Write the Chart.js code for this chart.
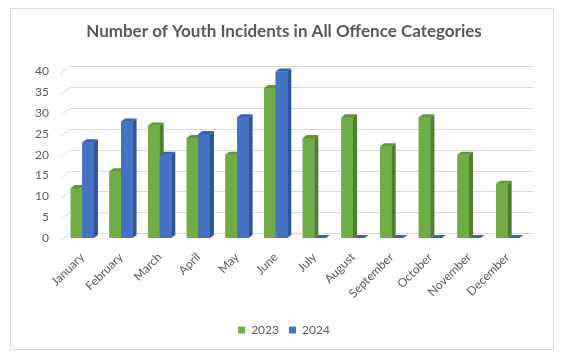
<!DOCTYPE html>
<html>
<head>
<meta charset="utf-8">
<script src="https://cdn.jsdelivr.net/npm/chart.js@4.4.1/dist/chart.umd.min.js"></script>
<style>
  html, body { margin: 0; padding: 0; background: #ffffff; }
  #wrap { position: relative; width: 571px; height: 360px; }
  #frame { position: absolute; left: 10px; top: 8px; width: 544px; height: 342px; border: 1px solid #d9d9d9; box-sizing: border-box; pointer-events: none; }
</style>
</head>
<body>
<div id="wrap">
  <canvas id="c" width="571" height="360"></canvas>
  <div id="frame"></div>
</div>
<script>
const months = ["January","February","March","April","May","June","July","August","September","October","November","December"];
const seriesNames = ["2023","2024"];
const values2023 = [12,16,27,24,20,36,24,29,22,29,20,13];
const values2024 = [23,28,20,25,29,40,0,0,0,0,0,0];
const yTickValues = [0,5,10,15,20,25,30,35,40];

const frontColors = ["#70AD47","#4472C4"];
const sideColors  = ["#4E7F30","#2F5597"];
const topColors   = ["#5E9639","#3A62AC"];
const DX = 4, DY = 3;

// let the y tick labels draw left of the (narrow) y scale box
const widenYClip = {
  id: 'widenYClip',
  afterLayout(chart) { chart.scales.y.left = 0; }
};

const grid3d = {
  id: 'grid3d',
  beforeDatasetsDraw(chart) {
    const {ctx, chartArea} = chart;
    const ys = chart.scales.y;
    ctx.save();
    ctx.strokeStyle = '#d9d9d9';
    ctx.lineWidth = 1;
    yTickValues.forEach(v => {
      const y = Math.round(ys.getPixelForValue(v)) + 0.5;
      ctx.beginPath();
      ctx.moveTo(chartArea.left - 3, y + 2);
      ctx.lineTo(chartArea.left + 7, y - 5);
      ctx.lineTo(chartArea.right + 6, y - 5);
      ctx.stroke();
    });
    ctx.restore();
  }
};

const bars3d = {
  id: 'bars3d',
  afterDatasetsDraw(chart) {
    const {ctx} = chart;
    const metas = [chart.getDatasetMeta(0), chart.getDatasetMeta(1)];
    ctx.save();
    for (let i = 0; i < months.length; i++) {
      metas.forEach((meta, d) => {
        const el = meta.data[i];
        const l = el.x - el.width / 2, r = el.x + el.width / 2;
        const t = el.y, b = el.base;
        if (b - t > 0.5) {
          ctx.fillStyle = frontColors[d];
          ctx.fillRect(l, t, r - l, b - t);
          ctx.fillStyle = sideColors[d];
          ctx.beginPath();
          ctx.moveTo(r, t); ctx.lineTo(r + DX, t - DY); ctx.lineTo(r + DX, b - DY); ctx.lineTo(r, b);
          ctx.closePath(); ctx.fill();
        }
        ctx.fillStyle = topColors[d];
        ctx.beginPath();
        ctx.moveTo(l, t); ctx.lineTo(l + DX, t - DY); ctx.lineTo(r + DX, t - DY); ctx.lineTo(r, t);
        ctx.closePath(); ctx.fill();
      });
    }
    ctx.restore();
  }
};

const textColor = '#595959';
new Chart(document.getElementById('c'), {
  type: 'bar',
  data: {
    labels: months,
    datasets: [
      { label: seriesNames[0], data: values2023, backgroundColor: frontColors[0], borderWidth: 0 },
      { label: seriesNames[1], data: values2024, backgroundColor: frontColors[1], borderWidth: 0 }
    ]
  },
  options: {
    responsive: false,
    animation: false,
    devicePixelRatio: 1,
    datasets: { bar: { categoryPercentage: 0.6, barPercentage: 1.0 } },
    layout: { padding: { left: 41, right: 44, top: 0, bottom: 14 } },
    plugins: {
      title: {
        display: true,
        text: 'Number of Youth Incidents in All Offence Categories',
        color: textColor,
        font: { family: 'Lato', size: 17, weight: 'bold' },
        padding: { top: 21, bottom: 30 }
      },
      legend: {
        position: 'bottom',
        labels: {
          color: textColor,
          font: { family: 'Lato', size: 12 },
          boxWidth: 7, boxHeight: 7, padding: 10
        }
      },
      tooltip: { enabled: false }
    },
    scales: {
      x: {
        grid: { display: false, drawTicks: false },
        border: { display: false },
        afterFit(scale) { scale.height = 76; },
        ticks: {
          color: textColor,
          font: { family: 'Lato', size: 12 },
          maxRotation: 45, minRotation: 45, padding: 12, autoSkip: false
        }
      },
      y: {
        min: 0, max: 40,
        grid: { display: false, drawTicks: false },
        border: { display: false },
        afterFit(scale) { scale.width = 22; },
        ticks: {
          stepSize: 5,
          color: textColor,
          font: { family: 'Lato', size: 12 },
          padding: 14
        }
      }
    }
  },
  plugins: [widenYClip, grid3d, bars3d]
});
</script>
</body>
</html>
